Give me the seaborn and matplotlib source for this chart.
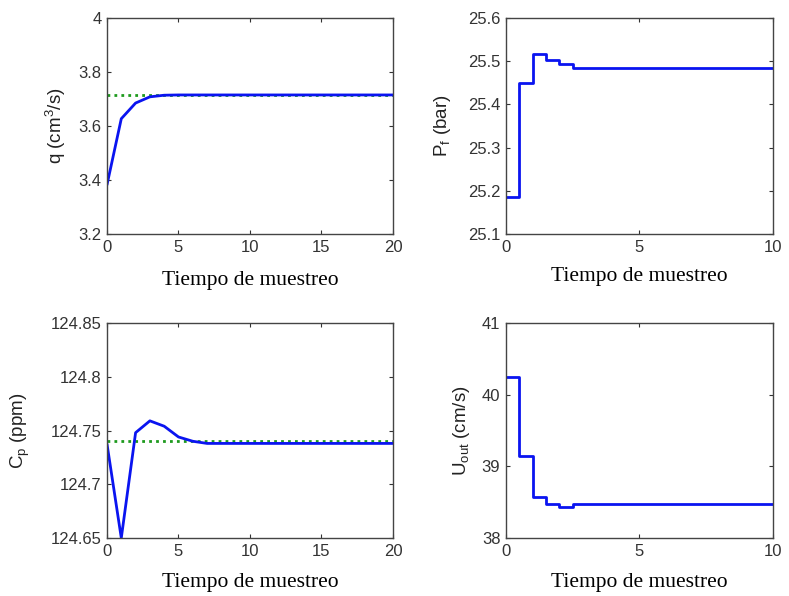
import numpy as np
import pandas as pd
import matplotlib
matplotlib.use("Agg")
import matplotlib.pyplot as plt
import seaborn as sns
from matplotlib.ticker import FormatStrFormatter

# ---- data ----
q_t = list(range(0, 21))
q_vals = [3.382, 3.627, 3.685, 3.708, 3.714, 3.715, 3.715, 3.715, 3.715, 3.715,
          3.715, 3.715, 3.715, 3.715, 3.715, 3.715, 3.715, 3.715, 3.715, 3.715, 3.715]
q_set = 3.715

pf_t = [0, 0.5, 1.0, 1.5, 2.0, 2.5, 10]
pf_vals = [25.185, 25.449, 25.517, 25.503, 25.494, 25.484, 25.484]

cp_t = list(range(0, 21))
cp_vals = [124.7375, 124.65, 124.748, 124.759, 124.754, 124.744, 124.740, 124.738,
           124.738, 124.738, 124.738, 124.738, 124.738, 124.738, 124.738, 124.738,
           124.738, 124.738, 124.738, 124.738, 124.738]
cp_set = 124.740

u_t = [0, 0.5, 1.0, 1.5, 2.0, 2.5, 10]
u_vals = [40.253, 39.149, 38.57, 38.473, 38.431, 38.473, 38.473]

xlabel = "Tiempo de muestreo"
ylabels = ["q (cm$^3$/s)", "P$_f$ (bar)", "C$_p$ (ppm)", "U$_{out}$ (cm/s)"]

sns.set_style("ticks")
plt.rcParams["font.family"] = ["Liberation Sans", "DejaVu Sans"]
plt.rcParams["mathtext.default"] = "regular"

fig = plt.figure(figsize=(7.89, 5.96), dpi=100)
pos = [
    [0.1356, 0.6074, 0.3625, 0.3624],
    [0.6413, 0.6074, 0.3384, 0.3624],
    [0.1356, 0.0973, 0.3625, 0.3607],
    [0.6413, 0.0973, 0.3384, 0.3607],
]
axes = [fig.add_axes(p) for p in pos]

blue = "#0a14f0"
green = "#1e9a1e"

# q
ax = axes[0]
dq = pd.DataFrame({"t": q_t, "v": q_vals, "s": [q_set] * len(q_t)})
sns.lineplot(data=dq, x="t", y="s", ax=ax, color=green, linestyle=(0, (1, 1.5)), linewidth=2)
sns.lineplot(data=dq, x="t", y="v", ax=ax, color=blue, linewidth=2)
ax.set_xlim(0, 20); ax.set_ylim(3.2, 4.0)
ax.set_xticks([0, 5, 10, 15, 20]); ax.set_yticks([3.2, 3.4, 3.6, 3.8, 4.0])

# Pf
ax = axes[1]
dp = pd.DataFrame({"t": pf_t, "v": pf_vals})
sns.lineplot(data=dp, x="t", y="v", ax=ax, color=blue, linewidth=2, drawstyle="steps-post")
ax.set_xlim(0, 10); ax.set_ylim(25.1, 25.6)
ax.set_xticks([0, 5, 10]); ax.set_yticks([25.1, 25.2, 25.3, 25.4, 25.5, 25.6])

# Cp
ax = axes[2]
dc = pd.DataFrame({"t": cp_t, "v": cp_vals, "s": [cp_set] * len(cp_t)})
sns.lineplot(data=dc, x="t", y="s", ax=ax, color=green, linestyle=(0, (1, 1.5)), linewidth=2)
sns.lineplot(data=dc, x="t", y="v", ax=ax, color=blue, linewidth=2)
ax.set_xlim(0, 20); ax.set_ylim(124.65, 124.85)
ax.set_xticks([0, 5, 10, 15, 20]); ax.set_yticks([124.65, 124.7, 124.75, 124.8, 124.85])

# Uout
ax = axes[3]
du = pd.DataFrame({"t": u_t, "v": u_vals})
sns.lineplot(data=du, x="t", y="v", ax=ax, color=blue, linewidth=2, drawstyle="steps-post")
ax.set_xlim(0, 10); ax.set_ylim(38, 41)
ax.set_xticks([0, 5, 10]); ax.set_yticks([38, 39, 40, 41])

xl_off = [-0.171, -0.153, -0.163, -0.163]
yl_off = [-0.18, -0.236, -0.304, -0.165]
for i, ax in enumerate(axes):
    ax.yaxis.set_major_formatter(FormatStrFormatter("%g"))
    ax.xaxis.set_major_formatter(FormatStrFormatter("%g"))
    ax.tick_params(direction="in", length=3, width=0.8, top=True, right=True,
                   labelsize=12, colors="#333333", pad=4)
    for sp in ax.spines.values():
        sp.set_color("#444444")
        sp.set_linewidth(1.0)
        sp.set_visible(True)
    ax.set_xlabel(xlabel, family=["Liberation Serif", "DejaVu Serif"], fontsize=15.5, color="black")
    ax.xaxis.set_label_coords(0.5, xl_off[i])
    ax.xaxis.label.set_va("top")
    ax.set_ylabel(ylabels[i], fontsize=13.5, color="#222222")
    ax.yaxis.label.set_va("center")
    ax.yaxis.set_label_coords(yl_off[i], 0.5)

fig.savefig("out.png", dpi=100)
